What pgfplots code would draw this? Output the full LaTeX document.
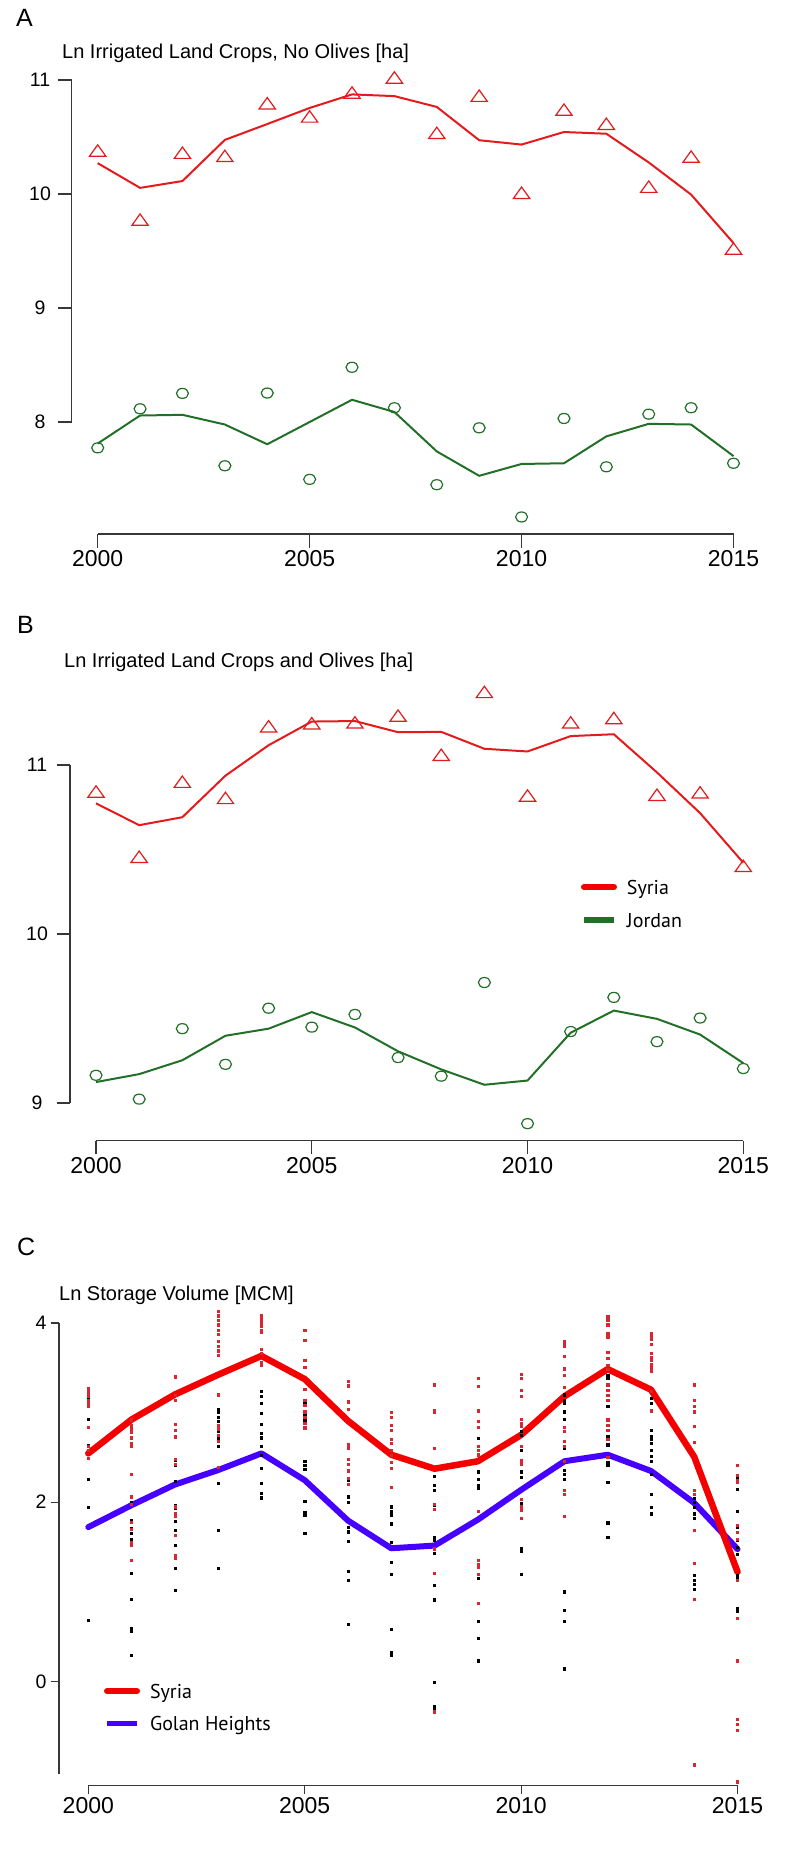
\documentclass[border=0pt]{standalone}
\usepackage{pgfplots}
\usepackage{pgfplotstable}
\pgfplotsset{compat=1.18}
\usepackage{fontspec}
\setmainfont{Liberation Sans}
\newfontfamily\legfont{PT Sans}

\definecolor{tri}{RGB}{228,26,28}
\definecolor{grn}{RGB}{34,112,40}
\definecolor{cred}{RGB}{245,0,0}
\definecolor{cblue}{RGB}{70,0,255}
\definecolor{dotred}{RGB}{215,40,50}
\definecolor{axc}{RGB}{55,55,55}

\pgfplotsset{
  rstyle/.style={
    scale only axis, clip=false,
    axis line style={draw=none},
    tick pos=left, tick align=outside,
    tick style={axc, line width=1.2pt},
    major tick length=13.5pt,
    /pgf/number format/assume math mode=true,
    xtick={2000,2005,2010,2015},
    xticklabels={2000,2005,2010,2015},
    xticklabel style={font=\fontsize{23}{23}\selectfont, inner sep=3pt},
    yticklabel style={font=\fontsize{19.5}{19.5}\selectfont, anchor=center},
    legend cell align=left,
  },
  axln/.style={axc, line width=1.2pt, forget plot},
}

% Panel A: year, Syria points, Syria smooth, Jordan points, Jordan smooth
\pgfplotstableread{
year st sl jc jl
2000 10.365 10.271 7.773 7.811
2001 9.759 10.054 8.116 8.057
2002 10.346 10.114 8.251 8.063
2003 10.318 10.475 7.616 7.978
2004 10.780 10.614 8.254 7.805
2005 10.664 10.755 7.497 8.000
2006 10.874 10.874 8.480 8.195
2007 11.006 10.859 8.125 8.088
2008 10.520 10.764 7.450 7.742
2009 10.846 10.472 7.949 7.528
2010 9.995 10.434 7.167 7.632
2011 10.724 10.544 8.031 7.638
2012 10.600 10.529 7.607 7.874
2013 10.048 10.277 8.069 7.984
2014 10.312 9.995 8.125 7.978
2015 9.505 9.570 7.638 7.701
}\tabA

% Panel B
\pgfplotstableread{
year st sl jc jl
2000 10.832 10.773 9.164 9.124
2001 10.446 10.644 9.023 9.171
2002 10.890 10.691 9.440 9.253
2003 10.794 10.937 9.229 9.398
2004 11.218 11.117 9.561 9.440
2005 11.236 11.257 9.449 9.538
2006 11.241 11.260 9.524 9.447
2007 11.281 11.194 9.269 9.306
2008 11.049 11.196 9.159 9.199
2009 11.421 11.096 9.713 9.108
2010 10.808 11.080 8.878 9.133
2011 11.241 11.171 9.423 9.416
2012 11.267 11.182 9.625 9.547
2013 10.813 10.956 9.363 9.498
2014 10.827 10.715 9.503 9.405
2015 10.392 10.422 9.204 9.236
}\tabB

% Panel C smooth lines
\pgfplotstableread{
year syr golan
2000 2.544 1.721
2001 2.922 1.966
2002 3.201 2.196
2003 3.422 2.358
2004 3.632 2.544
2005 3.373 2.245
2006 2.907 1.794
2007 2.529 1.485
2008 2.373 1.515
2009 2.456 1.804
2010 2.750 2.137
2011 3.181 2.456
2012 3.485 2.529
2013 3.255 2.348
2014 2.505 1.990
2015 1.221 1.475
}\tabC

\begin{document}
\begin{tikzpicture}[x=1pt,y=1pt]
\useasboundingbox (0,0) rectangle (793,-1869);

% ---------- Panel A ----------
\node[anchor=base west, inner sep=0, font=\fontsize{25}{25}\selectfont] at (16,-26) {A};
\node[anchor=base west, inner sep=0, font=\fontsize{20}{20}\selectfont] at (62,-58.3) {Ln Irrigated Land Crops, No Olives [ha]};
\begin{axis}[rstyle, at={(71.7pt,-534pt)}, anchor=south west,
  width=687.8pt, height=472.2pt,
  xmin=1999.387, xmax=2015.613, ymin=7.0175, ymax=11.16,
  ytick={8,9,10,11}, yticklabels={8,9,10,11},
  yticklabel style={xshift=-18.2pt}]
\addplot[axln] coordinates {(2000,7.0175) (2015,7.0175)};
\addplot[axln] coordinates {(1999.387,8) (1999.387,11)};
\addplot[tri, line width=2pt, line join=round, forget plot] table[x=year,y=sl]{\tabA};
\addplot[grn, line width=2pt, line join=round, forget plot] table[x=year,y=jl]{\tabA};
\addplot[tri, only marks, mark=triangle, mark size=7.6pt, mark options={line width=1.2pt, xscale=1.24}, forget plot] table[x=year,y=st]{\tabA};
\addplot[grn, only marks, mark=o, mark size=5pt, mark options={line width=1.2pt, xscale=1.2}, forget plot] table[x=year,y=jc]{\tabA};
\end{axis}

% ---------- Panel B ----------
\node[anchor=base west, inner sep=0, font=\fontsize{25}{25}\selectfont] at (17,-633) {B};
\node[anchor=base west, inner sep=0, font=\fontsize{20}{20}\selectfont] at (64,-667) {Ln Irrigated Land Crops and Olives [ha]};
\begin{axis}[rstyle, at={(70pt,-1140.7pt)}, anchor=south west,
  width=699.3pt, height=463.6pt,
  xmin=1999.397, xmax=2015.603, ymin=8.777, ymax=11.52,
  ytick={9,10,11}, yticklabels={9,10,11},
  yticklabel style={xshift=-19.5pt},
  legend style={draw=none, fill=none, inner sep=0pt, outer sep=0pt,
    at={(0.7307,0.5623)}, anchor=north west, row sep=15pt, column sep=10pt,
    font=\legfont\fontsize{20}{20}\selectfont,
    nodes={inner sep=0pt, text height=14pt, text depth=4pt}},
  legend image code/.code={\path (0pt,2pt) -- (30pt,2pt); \draw[#1] (3pt,2pt) -- (27pt,2pt);}]
\addplot[axln] coordinates {(2000,8.777) (2015,8.777)};
\addplot[axln] coordinates {(1999.397,9) (1999.397,11)};
\addplot[tri, line width=2pt, line join=round, forget plot] table[x=year,y=sl]{\tabB};
\addplot[grn, line width=2pt, line join=round, forget plot] table[x=year,y=jl]{\tabB};
\addplot[tri, only marks, mark=triangle, mark size=7.6pt, mark options={line width=1.2pt, xscale=1.24}, forget plot] table[x=year,y=st]{\tabB};
\addplot[grn, only marks, mark=o, mark size=5pt, mark options={line width=1.2pt, xscale=1.2}, forget plot] table[x=year,y=jc]{\tabB};
\addlegendimage{cred, line width=6pt, line cap=round}
\addlegendentry{Syria}
\addlegendimage{grn, line width=5.5pt, line cap=butt}
\addlegendentry{Jordan}
\end{axis}

% ---------- Panel C ----------
\node[anchor=base west, inner sep=0, font=\fontsize{25}{25}\selectfont] at (17,-1255) {C};
\node[anchor=base west, inner sep=0, font=\fontsize{20}{20}\selectfont] at (59,-1300.8) {Ln Storage Volume [MCM]};
\begin{axis}[rstyle, at={(59pt,-1785.4pt)}, anchor=south west,
  width=704.5pt, height=480.4pt,
  xmin=1999.323, xmax=2015.6, ymin=-1.162, ymax=4.2,
  major tick length=8.5pt,
  ytick={0,2,4}, yticklabels={0,2,4},
  yticklabel style={xshift=-9.5pt},
  legend style={draw=none, fill=none, inner sep=0pt, outer sep=0pt,
    at={(0.0639,0.2111)}, anchor=north west, row sep=14pt, column sep=10pt,
    font=\legfont\fontsize{20}{20}\selectfont,
    nodes={inner sep=0pt, text height=14pt, text depth=4pt}},
  legend image code/.code={\path (0pt,2pt) -- (30pt,2pt); \draw[#1] (3pt,2pt) -- (27pt,2pt);}]
\addplot[axln] coordinates {(2000,-1.162) (2015,-1.162)};
\addplot[axln] coordinates {(1999.323,-1.03) (1999.323,4)};
% black dots
\addplot[only marks, mark=square*, mark size=1.1pt, black, mark options={draw=none, fill=black}, forget plot] table {
2000 3.22
2000 3.16
2000 3.12
2000 2.93
2000 2.63
2000 2.26
2000 1.94
2000 0.68
2001 2.00
2001 1.80
2001 1.71
2001 1.65
2001 1.59
2001 1.54
2001 1.21
2001 0.92
2001 0.59
2001 0.56
2001 0.29
2002 2.47
2002 2.41
2002 2.23
2002 1.97
2002 1.93
2002 1.79
2002 1.69
2002 1.52
2002 1.26
2002 1.02
2003 3.04
2003 3.00
2003 2.95
2003 2.90
2003 2.79
2003 2.71
2003 2.62
2003 2.21
2003 1.69
2003 1.26
2004 3.24
2004 3.18
2004 3.10
2004 2.99
2004 2.87
2004 2.77
2004 2.72
2004 2.62
2004 2.52
2004 2.38
2004 2.21
2004 2.10
2004 2.05
2005 3.12
2005 2.97
2005 2.92
2005 2.46
2005 2.41
2005 2.37
2005 2.01
2005 1.89
2005 1.86
2005 1.65
2006 2.25
2006 2.06
2006 2.00
2006 1.72
2006 1.67
2006 1.56
2006 1.23
2006 1.13
2006 0.64
2007 1.95
2007 1.90
2007 1.86
2007 1.76
2007 1.55
2007 1.33
2007 1.20
2007 0.58
2007 0.32
2007 0.29
2008 2.29
2008 2.19
2008 2.13
2008 1.97
2008 1.61
2008 1.58
2008 1.43
2008 1.07
2008 0.91
2008 -0.01
2008 -0.28
2008 -0.31
2009 2.71
2009 2.58
2009 2.34
2009 2.26
2009 2.19
2009 2.16
2009 1.28
2009 1.15
2009 0.67
2009 0.48
2009 0.23
2010 2.79
2010 2.75
2010 2.58
2010 2.34
2010 2.28
2010 1.99
2010 1.48
2010 1.45
2010 1.20
2011 3.20
2011 3.14
2011 3.10
2011 3.01
2011 2.93
2011 2.68
2011 2.60
2011 2.36
2011 2.31
2011 2.26
2011 2.09
2011 1.00
2011 0.79
2011 0.67
2011 0.14
2012 3.42
2012 3.38
2012 3.07
2012 2.73
2012 2.64
2012 2.45
2012 2.41
2012 2.22
2012 1.77
2012 1.61
2013 3.16
2013 3.10
2013 2.80
2013 2.74
2013 2.70
2013 2.66
2013 2.58
2013 2.51
2013 2.46
2013 2.31
2013 2.09
2013 1.94
2013 1.87
2014 2.04
2014 2.00
2014 1.94
2014 1.87
2014 1.82
2014 1.18
2014 1.13
2014 1.08
2014 1.03
2015 2.28
2015 2.14
2015 1.90
2015 1.72
2015 1.66
2015 1.58
2015 1.50
2015 1.42
2015 1.18
2015 1.15
2015 0.81
2015 0.78
};
% red dots
\addplot[only marks, mark=square*, mark size=1.1pt, dotred, mark options={draw=none, fill=dotred}, forget plot] table {
2000 3.27
2000 3.24
2000 3.21
2000 3.18
2000 3.14
2000 3.10
2000 3.07
2000 2.84
2000 2.62
2000 2.58
2000 2.49
2001 2.92
2001 2.86
2001 2.82
2001 2.78
2001 2.72
2001 2.66
2001 2.62
2001 2.31
2001 2.06
2001 1.98
2001 1.78
2001 1.70
2001 1.55
2001 1.52
2001 1.35
2002 3.40
2002 3.19
2002 3.14
2002 2.87
2002 2.80
2002 2.73
2002 2.48
2002 2.42
2002 1.95
2002 1.88
2002 1.84
2002 1.63
2002 1.41
2002 1.38
2003 4.13
2003 4.08
2003 4.03
2003 3.98
2003 3.92
2003 3.87
2003 3.80
2003 3.74
2003 3.69
2003 3.64
2003 3.20
2003 2.86
2003 2.82
2003 2.75
2003 2.68
2003 2.39
2004 4.09
2004 4.06
2004 4.03
2004 4.00
2004 3.96
2004 3.92
2004 3.90
2004 3.71
2004 3.66
2004 3.56
2004 3.53
2005 3.92
2005 3.81
2005 3.58
2005 3.51
2005 3.26
2005 3.14
2005 3.08
2005 3.01
2005 2.95
2005 2.88
2005 2.83
2006 3.35
2006 3.30
2006 3.12
2006 3.04
2006 2.64
2006 2.60
2006 2.48
2006 2.42
2006 2.35
2006 2.27
2006 2.20
2007 3.00
2007 2.95
2007 2.86
2007 2.80
2007 2.70
2007 2.66
2007 2.58
2007 2.52
2007 2.45
2007 2.38
2007 2.17
2008 3.31
2008 3.03
2008 3.00
2008 2.60
2008 1.98
2008 1.92
2008 1.48
2008 1.21
2008 -0.34
2009 3.38
2009 3.29
2009 3.02
2009 2.90
2009 2.84
2009 2.62
2009 2.58
2009 2.53
2009 1.90
2009 1.35
2009 1.31
2009 1.27
2009 1.20
2009 0.87
2010 3.43
2010 3.38
2010 3.25
2010 3.18
2010 2.93
2010 2.88
2010 2.85
2010 2.62
2010 2.47
2010 2.43
2010 2.03
2010 1.95
2010 1.91
2010 1.82
2011 3.80
2011 3.77
2011 3.74
2011 3.63
2011 3.49
2011 3.42
2011 3.28
2011 2.84
2011 2.79
2011 2.68
2011 2.62
2011 2.46
2011 2.13
2011 2.09
2011 1.84
2012 4.07
2012 4.03
2012 3.98
2012 3.88
2012 3.84
2012 3.67
2012 3.61
2012 3.53
2012 3.48
2012 3.31
2012 3.25
2012 3.19
2012 3.14
2012 2.92
2012 2.86
2012 2.80
2012 2.70
2012 2.50
2013 3.88
2013 3.85
2013 3.82
2013 3.76
2013 3.66
2013 3.62
2013 3.58
2013 3.54
2013 3.50
2013 3.46
2013 3.24
2013 3.02
2014 3.31
2014 3.14
2014 3.07
2014 3.01
2014 2.85
2014 2.67
2014 2.13
2014 2.09
2014 1.69
2014 1.32
2014 0.92
2014 -0.93
2015 2.41
2015 2.30
2015 2.24
2015 2.22
2015 1.74
2015 1.66
2015 1.59
2015 1.13
2015 0.70
2015 0.23
2015 -0.42
2015 -0.48
2015 -0.55
2015 -1.12
};
\addplot[cblue, line width=6pt, line join=round, line cap=round, forget plot] table[x=year,y=golan]{\tabC};
\addplot[cred, line width=6.5pt, line join=round, line cap=round, forget plot] table[x=year,y=syr]{\tabC};
\addlegendimage{cred, line width=6pt, line cap=round}
\addlegendentry{Syria}
\addlegendimage{cblue, line width=5pt, line cap=butt}
\addlegendentry{Golan Heights}
\end{axis}
\end{tikzpicture}
\end{document}
